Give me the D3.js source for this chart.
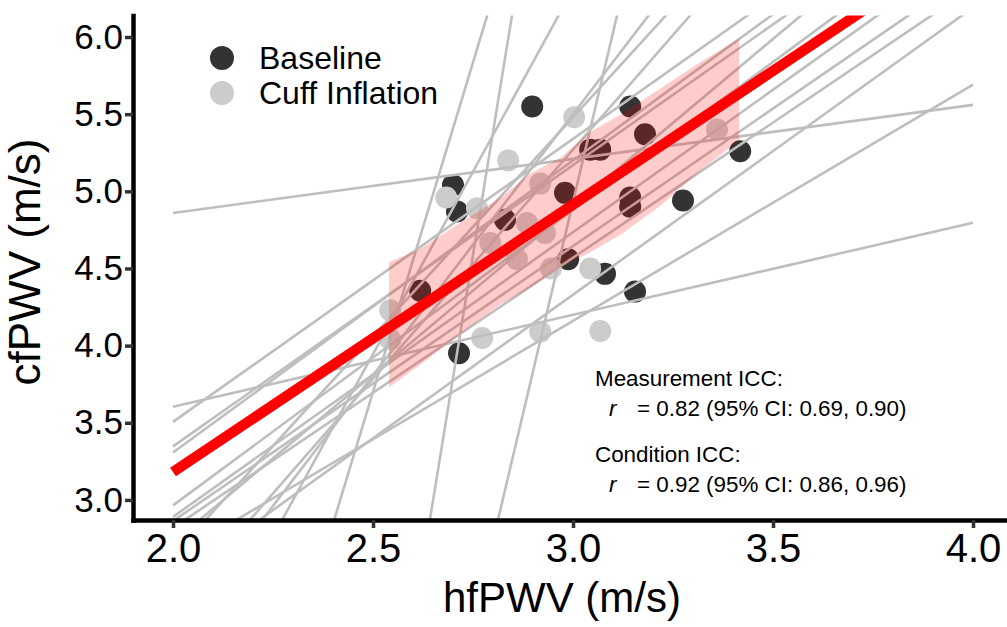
<!DOCTYPE html>
<html>
<head>
<meta charset="utf-8">
<script src="https://cdn.jsdelivr.net/npm/d3@7"></script>
<style>
  body { margin: 0; background: #fff; }
  text { font-family: Arial, "Liberation Sans", sans-serif; }
</style>
</head>
<body>
<div id="chart"></div>
<script>
// Baseline condition (hfPWV, cfPWV)
const baseX = [2.898, 3.143, 3.18, 3.043, 3.068, 3.418, 2.70, 2.71, 2.98, 3.143, 3.143, 3.275, 2.83, 2.988, 3.08, 2.618, 3.155, 2.715];
const baseY = [5.55, 5.55, 5.37, 5.27, 5.27, 5.26, 5.04, 4.87, 4.99, 4.96, 4.90, 4.94, 4.815, 4.56, 4.465, 4.355, 4.35, 3.95];

// Cuff inflation condition
const cuffX = [3.003, 2.838, 3.36, 2.918, 2.683, 2.76, 2.885, 2.793, 2.86, 2.945, 3.043, 2.543, 2.543, 2.773, 2.918, 3.068, 2.93];
const cuffY = [5.48, 5.20, 5.40, 5.05, 4.96, 4.89, 4.795, 4.665, 4.56, 4.50, 4.50, 4.23, 4.04, 4.05, 4.09, 4.095, 4.73];

// per-subject fits: slope and fitted cfPWV at hfPWV = 3.0
const subjSlope = [15.93, 10.98, 8.54, 4.73, 3.385, 2.84, 2.97, 0.35, 0.596, 1.532, 1.834, 1.823, 1.893, 1.915, 1.845, 1.782, 1.751, 1.861, 2.174];
const subjAt3   = [8.57, 4.93, 7.97, 6.31, 5.50, 5.48, 5.27, 5.21, 4.20, 4.16, 5.34, 5.17, 5.20, 4.88, 4.735, 4.645, 4.57, 4.33, 4.90];

// group fit
const fitSlope = 1.733;
const fitAt3 = 4.914;

// shaded band over the observed hfPWV range
const bandX  = [2.54, 2.62, 2.72, 2.82, 2.89, 2.97, 3.04, 3.12, 3.22, 3.32, 3.415];
const bandLo = [3.73, 3.88, 4.08, 4.27, 4.37, 4.51, 4.60, 4.72, 4.91, 5.14, 5.33];
const bandHi = [4.54, 4.63, 4.80, 4.96, 5.11, 5.22, 5.38, 5.50, 5.67, 5.84, 5.99];

const xTicks = [2.0, 2.5, 3.0, 3.5, 4.0];
const yTicks = [3.0, 3.5, 4.0, 4.5, 5.0, 5.5, 6.0];

const width = 1007, height = 627;

const svg = d3.select("#chart").append("svg")
  .attr("width", width)
  .attr("height", height);

const x = d3.scaleLinear().domain([1.9, 4.1]).range([133, 1013]);
const y = d3.scaleLinear().domain([2.87, 6.14]).range([520, 15.4]);

svg.append("clipPath").attr("id", "panel")
  .append("rect")
  .attr("x", x(1.9)).attr("y", y(6.14))
  .attr("width", x(4.1) - x(1.9)).attr("height", y(2.87) - y(6.14));

const plot = svg.append("g").attr("clip-path", "url(#panel)");

// points
plot.selectAll(".base")
  .data(baseX.map((d, i) => [d, baseY[i]]))
  .enter().append("circle")
  .attr("class", "base")
  .attr("cx", d => x(d[0]))
  .attr("cy", d => y(d[1]))
  .attr("r", 11)
  .style("fill", "#333333");

plot.selectAll(".cuff")
  .data(cuffX.map((d, i) => [d, cuffY[i]]))
  .enter().append("circle")
  .attr("class", "cuff")
  .attr("cx", d => x(d[0]))
  .attr("cy", d => y(d[1]))
  .attr("r", 11)
  .style("fill", "#cccccc");

// subject lines over full range 2..4
const lineAt = (s, a, xv) => a + s * (xv - 3);
plot.selectAll(".subj")
  .data(subjSlope.map((s, i) => [s, subjAt3[i]]))
  .enter().append("line")
  .attr("class", "subj")
  .attr("x1", x(2)).attr("x2", x(4))
  .attr("y1", d => y(lineAt(d[0], d[1], 2)))
  .attr("y2", d => y(lineAt(d[0], d[1], 4)))
  .style("stroke", "#bebebe")
  .style("stroke-width", 2.6);

// band
const area = d3.area()
  .x((d, i) => x(bandX[i]))
  .y0((d, i) => y(bandLo[i]))
  .y1((d, i) => y(bandHi[i]));
plot.append("path")
  .datum(bandX)
  .attr("d", area)
  .style("fill", "red")
  .style("opacity", 0.2);

// group fit line
plot.append("line")
  .attr("x1", x(2)).attr("x2", x(4))
  .attr("y1", y(lineAt(fitSlope, fitAt3, 2)))
  .attr("y2", y(lineAt(fitSlope, fitAt3, 4)))
  .style("stroke", "#ff0000")
  .style("stroke-width", 10.5);

// axes
const yAxis = svg.append("g")
  .attr("transform", `translate(${x(1.9)},0)`)
  .call(d3.axisLeft(y).tickValues(yTicks).tickFormat(d3.format(".1f")).tickSize(8).tickSizeOuter(0).tickPadding(2));
const xAxis = svg.append("g")
  .attr("transform", `translate(0,${y(2.87)})`)
  .call(d3.axisBottom(x).tickValues(xTicks).tickFormat(d3.format(".1f")).tickSize(8).tickSizeOuter(0).tickPadding(6));

[yAxis, xAxis].forEach(g => {
  g.select(".domain").style("stroke", "#000").style("stroke-width", 4.5).style("stroke-linecap", "square");
  g.selectAll(".tick line").style("stroke", "#333").style("stroke-width", 3.5);
  g.selectAll(".tick text").style("fill", "#000").style("font-family", "Arial, 'Liberation Sans', sans-serif");
});
yAxis.selectAll(".tick text").style("font-size", "35px");
xAxis.selectAll(".tick text").style("font-size", "40px");

svg.append("text")
  .attr("x", 562).attr("y", 612)
  .attr("text-anchor", "middle")
  .style("font-size", "42px")
  .text("hfPWV (m/s)");

svg.append("text")
  .attr("transform", "translate(40,262) rotate(-90)")
  .attr("text-anchor", "middle")
  .style("font-size", "44px")
  .text("cfPWV (m/s)");

// legend
const legend = [["Baseline", "#333333"], ["Cuff Inflation", "#cccccc"]];
legend.forEach((l, i) => {
  svg.append("circle").attr("cx", 222).attr("cy", 58 + i * 35).attr("r", 12).style("fill", l[1]);
  svg.append("text").attr("x", 259).attr("y", 69 + i * 35).style("font-size", "32px").text(l[0]);
});

// ICC annotation
const notes = [
  ["Measurement ICC:", "= 0.82 (95% CI: 0.69, 0.90)", 386],
  ["Condition ICC:", "= 0.92 (95% CI: 0.86, 0.96)", 462]
];
notes.forEach(n => {
  svg.append("text").attr("x", 595).attr("y", n[2]).style("font-size", "22.4px").text(n[0]);
  svg.append("text").attr("x", 609).attr("y", n[2] + 30).style("font-size", "22.4px")
    .style("font-style", "italic").text("r");
  svg.append("text").attr("x", 637).attr("y", n[2] + 30).style("font-size", "22.4px").text(n[1]);
});
</script>
</body>
</html>
